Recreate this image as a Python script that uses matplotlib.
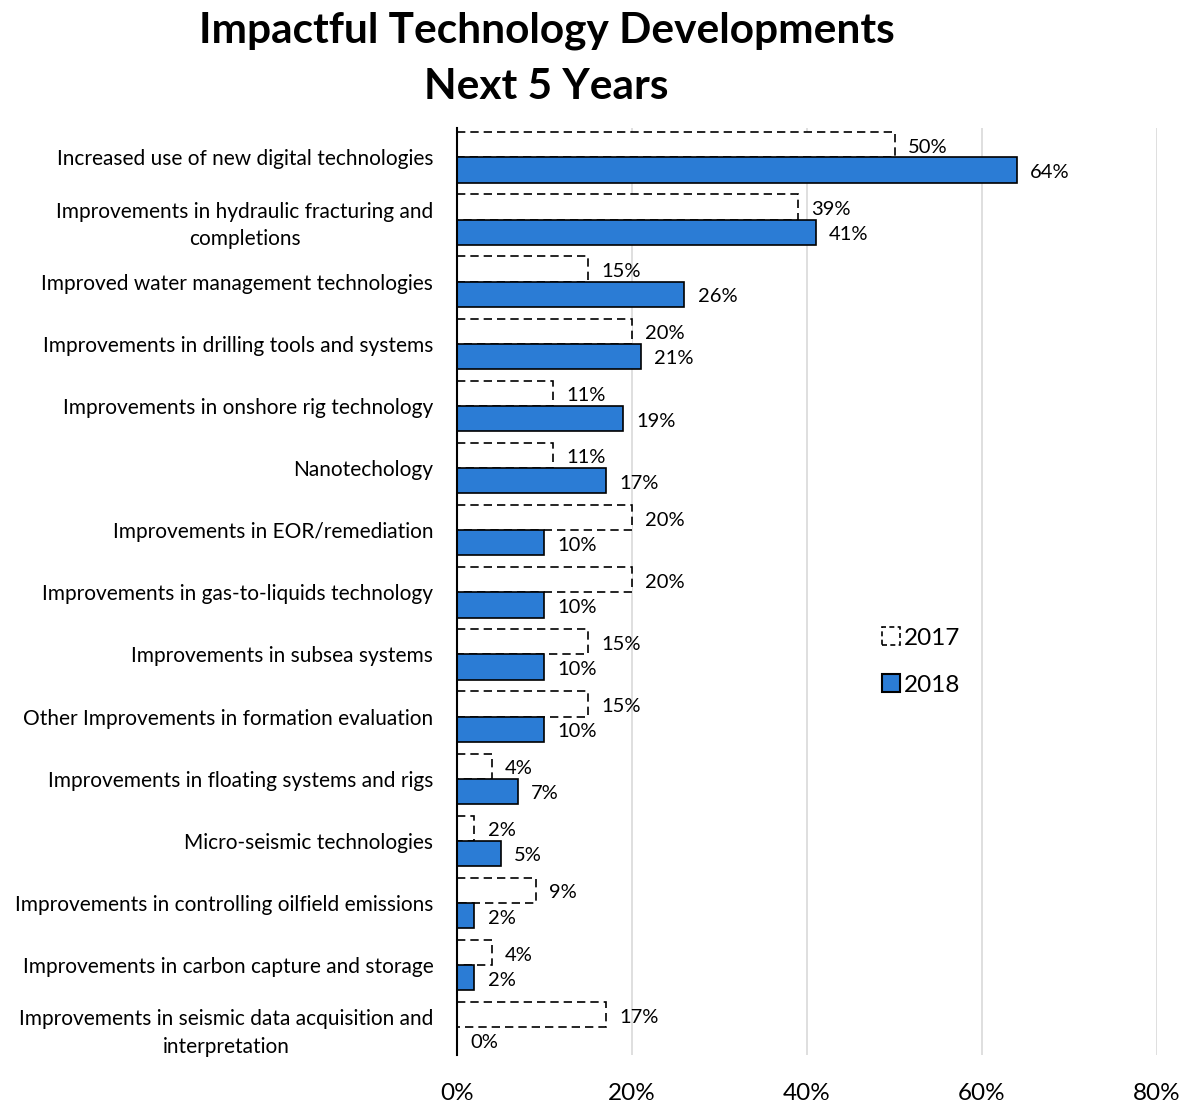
import matplotlib.pyplot as plt
import numpy as np
from matplotlib.patches import Patch

plt.rcParams["font.family"] = ["Lato", "DejaVu Sans"]

categories = [
    "Increased use of new digital technologies",
    "Improvements in hydraulic fracturing and\ncompletions",
    "Improved water management technologies",
    "Improvements in drilling tools and systems",
    "Improvements in onshore rig technology",
    "Nanotechology",
    "Improvements in EOR/remediation",
    "Improvements in gas-to-liquids technology",
    "Improvements in subsea systems",
    "Other Improvements in formation evaluation",
    "Improvements in floating systems and rigs",
    "Micro-seismic technologies",
    "Improvements in controlling oilfield emissions",
    "Improvements in carbon capture and storage",
    "Improvements in seismic data acquisition and\ninterpretation",
]
pct_2017 = [50, 39, 15, 20, 11, 11, 20, 20, 15, 15, 4, 2, 9, 4, 17]
pct_2018 = [64, 41, 26, 21, 19, 17, 10, 10, 10, 10, 7, 5, 2, 2, 0]
x_ticks = [0, 20, 40, 60, 80]

BLUE = "#2B7CD5"
bar_h = 0.405

fig = plt.figure(figsize=(11.86, 11.05), dpi=100)
ax = fig.add_axes([0.3853, 0.045, 0.5903, 0.839])

y = np.arange(len(categories))
ax.barh(y - bar_h / 2, pct_2017, height=bar_h, color="white",
        edgecolor="black", linewidth=1.2, linestyle=(0, (5, 3)), zorder=3)
ax.barh(y + bar_h / 2, pct_2018, height=bar_h, color=BLUE,
        edgecolor="black", linewidth=1.2, zorder=3)

for yi, v in zip(y, pct_2017):
    ax.text(v + 1.5, yi - bar_h / 2 + 0.04, f"{v}%", va="center", ha="left",
            fontsize=14.5)
for yi, v in zip(y, pct_2018):
    ax.text(v + 1.5, yi + bar_h / 2 + 0.04, f"{v}%", va="center", ha="left",
            fontsize=14.5)

ax.set_xlim(0, 80)
ax.set_ylim(14.45, -0.47)
ax.set_xticks(x_ticks)
ax.set_xticklabels([f"{t}%" for t in x_ticks], fontsize=17.5)
ax.tick_params(axis="x", length=0, pad=20)
ax.set_yticks(y)
ax.set_yticklabels(categories, fontsize=15, multialignment="center",
                   linespacing=1.45)
ax.tick_params(axis="y", length=0, pad=17)

ax.grid(axis="x", color="#d9d9d9", linewidth=1.2, zorder=0)
for side in ("top", "right", "bottom"):
    ax.spines[side].set_visible(False)
ax.spines["left"].set_linewidth(1.5)
ax.spines["left"].set_zorder(4)

handles = [
    Patch(facecolor="white", edgecolor="black", linestyle=(0, (3, 2)),
          linewidth=1.2, label="2017"),
    Patch(facecolor=BLUE, edgecolor="black", linewidth=1.5, label="2018"),
]
fig.legend(handles=handles, loc="upper left", bbox_to_anchor=(0.725, 0.452),
           frameon=False, fontsize=17.5, handlelength=0.75, handleheight=0.75,
           handletextpad=0.15, labelspacing=1.05)

fig.text(0.461, 0.99, "Impactful Technology Developments\nNext 5 Years",
         ha="center", va="top", fontsize=30.5, fontweight="bold",
         linespacing=1.6)

fig.savefig("out.png", dpi=100)
